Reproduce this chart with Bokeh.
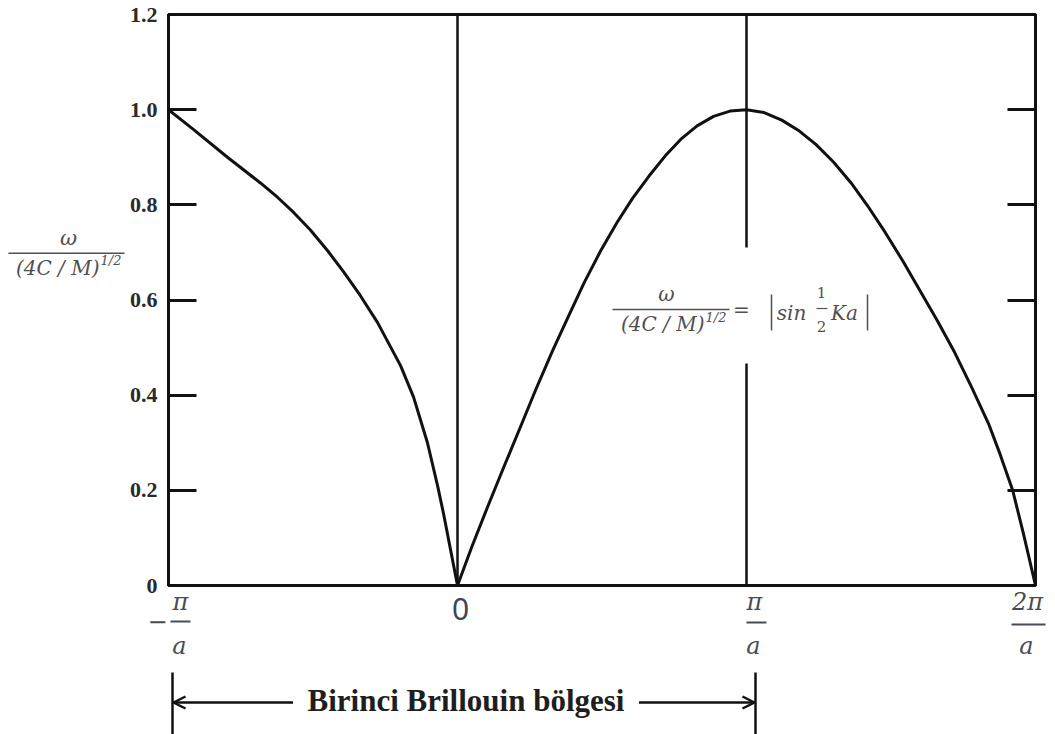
from bokeh.plotting import figure
from bokeh.layouts import row, column
from bokeh.models import Range1d, LinearAxis, FixedTicker, Label, Arrow, OpenHead
from bokeh.embed import file_html
from bokeh.resources import INLINE

# Dispersion curve of the monatomic linear chain.
# K in units of pi/a, frequency normalised by (4C/M)^(1/2).
k_values = [-1.0, -0.913, -0.796, -0.682, -0.623, -0.567, -0.509, -0.450, -0.394,
            -0.336, -0.277, -0.197, -0.152, -0.104, -0.069, -0.048, 0.0,
            0.050, 0.104, 0.161, 0.217, 0.271, 0.328, 0.385, 0.438, 0.495,
            0.552, 0.605, 0.662, 0.719, 0.773, 0.829, 0.886, 0.943, 1.0,
            1.061, 1.122, 1.183, 1.240, 1.301, 1.362, 1.419, 1.480, 1.541,
            1.599, 1.659, 1.720, 1.778, 1.839, 1.878, 1.921, 1.957, 2.0]
omega_values = [1.0, 0.958, 0.900, 0.846, 0.816, 0.784, 0.747, 0.704, 0.659,
                0.609, 0.553, 0.462, 0.396, 0.300, 0.210, 0.150, 0.0,
                0.082, 0.165, 0.250, 0.332, 0.412, 0.492, 0.567, 0.636, 0.703,
                0.763, 0.813, 0.860, 0.903, 0.938, 0.966, 0.986, 0.997, 1.0,
                0.994, 0.978, 0.955, 0.927, 0.890, 0.846, 0.798, 0.742, 0.682,
                0.621, 0.558, 0.490, 0.418, 0.338, 0.275, 0.200, 0.112, 0.0]

y_ticks = [0, 0.2, 0.4, 0.6, 0.8, 1.0, 1.2]
y_tick_labels = ["0", "0.2", "0.4", "0.6", "0.8", "1.0", "1.2"]

# K axis marks (units of pi/a) and their fraction labels
x_tick_positions = [-1, 0, 1, 2]
x_tick_numerators = ["π", "0", "π", "2π"]
x_tick_denominator = "a"

zone_label = "Birinci Brillouin bölgesi"
zone_edges = [-1, 1]

X0, X1 = -1.0, 2.0
Y0, Y1 = 0.0, 1.2

# page geometry
W, H = 1055, 734
TITLE_W = 126                        # strip holding the vertical-axis title
MAIN_H = 600                         # height of the chart row
LOW_TOP = 586                        # the label strip starts just under the frame
FL, FR, FT, FB = 168, 1035, 14, 585  # plot frame edges on the page


def sx(x):
    return FL + (x - X0) / (X1 - X0) * (FR - FL)


def dx(px):
    return X0 + (px - FL) / (FR - FL) * (X1 - X0)


def dy(py):
    return Y0 + (FB - py) / (FB - FT) * (Y1 - Y0)


def bare_figure(w, h, xr, yr, transparent=False):
    f = figure(width=w, height=h, x_range=xr, y_range=yr,
               x_axis_type=None, y_axis_type=None,
               output_backend="svg", toolbar_location=None,
               min_border_left=0, min_border_right=0,
               min_border_top=0, min_border_bottom=0)
    f.grid.visible = False
    f.outline_line_color = None
    if transparent:
        f.background_fill_alpha = 0
        f.border_fill_alpha = 0
    else:
        f.background_fill_color = "white"
        f.border_fill_color = "white"
    return f


MATH = "DejaVu Serif"
GREY = "#505050"
INK = "#111111"


def text(f, x, y, s, size, font=MATH, style="italic", color=GREY,
         align="center"):
    f.add_layout(Label(x=x, y=y, text=s, text_font=font,
                       text_font_size=f"{size}px", text_font_style=style,
                       text_color=color, text_align=align,
                       text_baseline="middle"))


def rule(f, x0, y0, x1, y1, width=1.5, color=GREY, end=None):
    f.add_layout(Arrow(x_start=x0, y_start=y0, x_end=x1, y_end=y1,
                       start=None, end=end, line_width=width,
                       line_color=color))


# ---- main chart -------------------------------------------------------
p = figure(width=W - TITLE_W, height=MAIN_H,
           x_range=Range1d(X0, X1), y_range=Range1d(Y0, Y1),
           x_axis_type=None, output_backend="svg", toolbar_location=None,
           min_border_left=FL - TITLE_W, min_border_right=W - FR,
           min_border_top=FT, min_border_bottom=MAIN_H - FB)
p.grid.visible = False
p.background_fill_color = "white"
p.border_fill_color = "white"
p.outline_line_color = INK
p.outline_line_width = 3

ya = p.yaxis[0]
ya.ticker = FixedTicker(ticks=y_ticks)
ya.major_label_overrides = dict(zip(y_ticks, y_tick_labels))
ya.axis_line_color = INK
ya.axis_line_width = 3
ya.major_tick_in = 28
ya.major_tick_out = 0
ya.major_tick_line_width = 3
ya.major_tick_line_color = INK
ya.minor_tick_line_color = None
ya.major_label_standoff = 11
ya.major_label_text_font = "Liberation Serif"
ya.major_label_text_font_style = "bold"
ya.major_label_text_font_size = "22px"
ya.major_label_text_color = "#2a2a2a"

# right-hand axis: inward ticks only, no labels
ra = LinearAxis(ticker=FixedTicker(ticks=y_ticks[1:-1]),
                major_label_text_color=None, major_label_standoff=0,
                axis_line_color=INK, axis_line_width=3,
                major_tick_in=28, major_tick_out=0, major_tick_line_width=3,
                major_tick_line_color=INK, minor_tick_line_color=None)
p.add_layout(ra, "right")

# formula sits on the pi/a line, which is broken around it
fx, fy = sx(1.0), 309
gap_low, gap_high = dy(fy + 54), dy(fy - 62)

p.segment(x0=[0.0, 1.0, 1.0], y0=[Y0, Y0, gap_high],
          x1=[0.0, 1.0, 1.0], y1=[Y1, gap_low, Y1],
          line_width=2.5, line_color=INK)

p.line(k_values, omega_values, line_width=3, line_color=INK,
       line_join="round")


def ftext(px, py, s, size, **kw):
    text(p, dx(px), dy(py), s, size, **kw)


def frule(px0, py0, px1, py1, **kw):
    rule(p, dx(px0), dy(py0), dx(px1), dy(py1), **kw)


# omega / (4C/M)^(1/2) = |sin(Ka/2)|
ftext(fx - 80, fy - 16, "ω", 20)
frule(fx - 134, fy, fx - 17, fy)
ftext(fx - 42, fy + 14, "(4C / M)", 20, align="right")
ftext(fx - 41, fy + 8, "1/2", 13, align="left")
ftext(fx - 5, fy, "=", 20, style="normal")
frule(fx + 25, fy - 15, fx + 25, fy + 21)
ftext(fx + 45, fy + 3, "sin", 20)
ftext(fx + 75, fy - 17, "1", 15, style="normal")
frule(fx + 70, fy - 1, fx + 81, fy - 1, width=1.2)
ftext(fx + 75, fy + 17, "2", 15, style="normal")
ftext(fx + 98, fy + 3, "Ka", 20)
frule(fx + 121, fy - 15, fx + 121, fy + 21)

# ---- vertical-axis title strip (page pixel coordinates) ---------------
t = bare_figure(TITLE_W, MAIN_H, Range1d(0, TITLE_W), Range1d(MAIN_H, 0))
text(t, 68, 235, "ω", 21)
rule(t, 8, 251, 124, 251)
text(t, 99, 266, "(4C / M)", 20, align="right")
text(t, 100, 258, "1/2", 13, align="left")

# ---- K labels and Brillouin zone bracket --------------------------------
# transparent strip pulled up under the frame so the labels can sit close
b = bare_figure(W, H - LOW_TOP, Range1d(dx(0), dx(W)), Range1d(H, LOW_TOP),
                transparent=True)
b.margin = (LOW_TOP - MAIN_H, 0, 0, 0)
LCOL = "#474d55"
for pos, num in zip(x_tick_positions, x_tick_numerators):
    tp = sx(pos)
    if num == "0":
        text(b, dx(tp + 3), 608, num, 30, font="Noto Sans", style="normal",
             color="#3d4756")
        continue
    if pos < 0:
        text(b, dx(tp - 11), 620, "−", 24, style="normal", color=LCOL)
        cx, b0, b1, by = tp + 12, tp + 2, tp + 22, 621
    elif num == "π":
        cx, b0, b1, by = tp + 8, tp, tp + 20, 622
    else:
        cx, b0, b1, by = tp - 8, tp - 24, tp + 10, 624
    text(b, dx(cx), 601, num, 24, color=LCOL)
    rule(b, dx(b0), by, dx(b1), by, width=2, color=LCOL)
    text(b, dx(cx - 1), 645, x_tick_denominator, 24, color=LCOL)

zl, zr = sx(zone_edges[0]) + 4, sx(zone_edges[1]) + 9
zy = 702
for zx in (zl, zr):
    rule(b, dx(zx), 672, dx(zx), 734, width=2.5, color=INK)
zc = (zl + zr) / 2 + 2
half = 170
text(b, dx(zc), 700, zone_label, 31, font="Liberation Serif", style="bold",
     color="#1e1e1e")
for start, stop in ((zc - half - 3, zl + 1), (zc + half + 3, zr - 1)):
    rule(b, dx(start), zy, dx(stop), zy, width=2.5, color=INK,
         end=OpenHead(size=12, line_width=2.5, line_color=INK))

page = column(row(t, p), b)
open("out.html", "w").write(file_html(page, INLINE))
